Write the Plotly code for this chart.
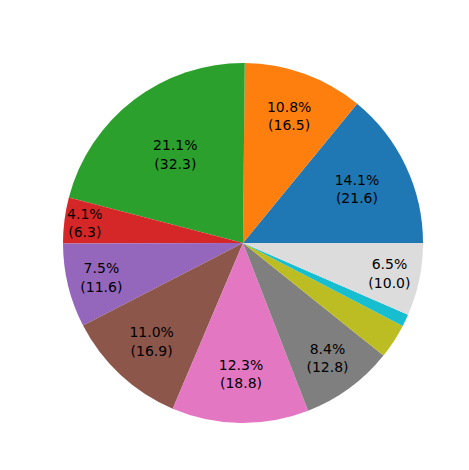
import plotly.graph_objects as go

values = [21.56, 16.5, 32.3, 6.3, 11.56, 16.9, 18.8, 12.8, 4.8, 1.68, 10.0]
colors = ["#1f77b4", "#ff7f0e", "#2ca02c", "#d62728", "#9467bd", "#8c564b",
          "#e377c2", "#7f7f7f", "#bcbd22", "#17becf", "#dcdcdc"]
total = sum(values)
texts = [f"{v/total*100:.1f}%<br>({v:.1f})" if v/total*100 > 3.5 else "" for v in values]
rot = 90 - values[0] / total * 360

fig = go.Figure(go.Pie(
    values=values, text=texts, textinfo="text", textposition="inside",
    insidetextorientation="horizontal",
    marker=dict(colors=colors), sort=False, direction="counterclockwise",
    rotation=rot, textfont=dict(color="black", size=14, family="DejaVu Sans"),
    domain=dict(x=[55/469, 415/469], y=[55/470, 415/470]), showlegend=False,
    hoverinfo="none"))
fig.update_layout(width=469, height=470, margin=dict(l=0, r=0, t=0, b=0),
                  paper_bgcolor="white", uniformtext=dict(minsize=14, mode="show"))
fig.write_html("out.html")
